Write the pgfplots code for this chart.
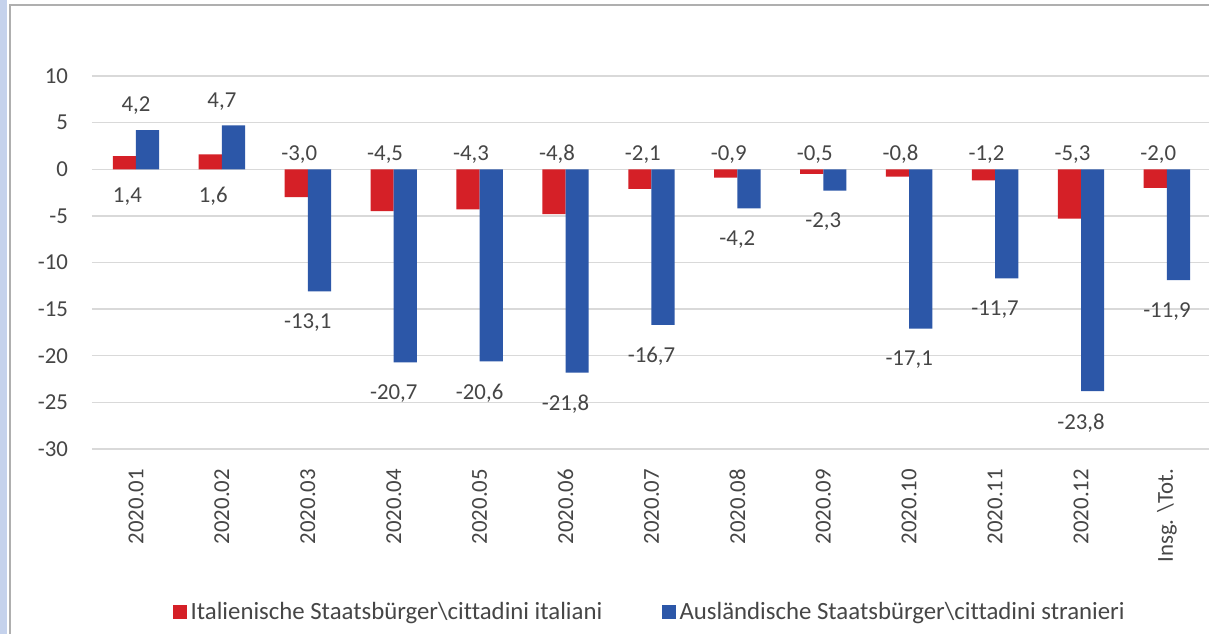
\documentclass[border=0pt]{standalone}
\usepackage{pgfplots}
\pgfplotsset{compat=1.18}
\usepackage{pgfplotstable}
\usepackage{fontspec}
\setmainfont{Carlito}[Ligatures=NoCommon]
\definecolor{myred}{RGB}{213,32,39}
\definecolor{myblue}{RGB}{44,87,168}
\definecolor{txt}{RGB}{70,70,70}
\definecolor{gridc}{RGB}{217,217,217}
\definecolor{frameblue}{RGB}{197,210,236}
\definecolor{framegrey}{RGB}{175,175,175}

\pgfplotstableread{
x red blue rlab
0 1.4 4.2 -2.9
1 1.6 4.7 -2.9
2 -3.0 -13.1 1.6
3 -4.5 -20.7 1.6
4 -4.3 -20.6 1.6
5 -4.8 -21.8 1.6
6 -2.1 -16.7 1.6
7 -0.9 -4.2 1.6
8 -0.5 -2.3 1.6
9 -0.8 -17.1 1.6
10 -1.2 -11.7 1.6
11 -5.3 -23.8 1.6
12 -2.0 -11.9 1.6
}\data

\begin{document}
\begin{tikzpicture}
\clip (0,0) rectangle (604.5pt,317pt);
\fill[white] (0,0) rectangle (604.5pt,317pt);
\fill[frameblue] (0,0) rectangle (3.6pt,317pt);
\draw[framegrey, line width=1pt] (4.8pt,0) -- (4.8pt,314.3pt) -- (604.5pt,314.3pt);
\begin{axis}[
  at={(46pt,92.5pt)}, anchor=south west,
  scale only axis, width=558.5pt, height=186.5pt,
  xmin=-0.512, xmax=12.49, ymin=-30, ymax=10,
  axis line style={draw=none}, major tick length=0pt,
  ymajorgrids, grid style={gridc, line width=0.7pt},
  ytick={-30,-25,...,10},
  xtick={0,...,12},
  xticklabels={2020.01,2020.02,2020.03,2020.04,2020.05,2020.06,2020.07,2020.08,2020.09,2020.10,2020.11,2020.12,Insg. \textbackslash Tot.},
  tick label style={font=\fontsize{11.4}{13}\selectfont, text=txt},
  xticklabel style={yshift=-6.5pt, rotate=90, anchor=east},
  yticklabel style={xshift=-8.5pt},
  /pgf/number format/assume math mode=true,
  legend style={at={(axis description cs:0.5005,-0.437)}, anchor=center, draw=none, fill=none,
    legend columns=2, font=\fontsize{12.4}{14}\selectfont, text=txt,
    /tikz/every even column/.append style={column sep=28pt},
    /tikz/every odd column/.append style={column sep=0pt}},
  legend cell align=left,
]
\addplot[ybar, bar width=0.27, bar shift=-0.135, fill=myred, draw=none,
  legend image code/.code={\fill[myred] (0pt,-3.3pt) rectangle (6.6pt,3.3pt);}]
  table[x=x, y=red]{\data};
\addlegendentry{Italienische Staatsbürger\textbackslash cittadini italiani}
\addplot[ybar, bar width=0.27, bar shift=0.135, fill=myblue, draw=none,
  legend image code/.code={\fill[myblue] (0pt,-3.3pt) rectangle (6.6pt,3.3pt);},
  nodes near coords={\pgfmathprintnumber[fixed,fixed zerofill,precision=1,use comma,assume math mode=true]{\pgfplotspointmeta}},
  every node near coord/.append style={font=\fontsize{11.4}{13}\selectfont, text=txt, inner ysep=9.25pt, yshift=-1.75pt}]
  table[x=x, y=blue]{\data};
\addlegendentry{Ausländische Staatsbürger\textbackslash cittadini stranieri}
\addplot[draw=none, forget plot, point meta=explicit,
  nodes near coords={\pgfmathprintnumber[fixed,fixed zerofill,precision=1,use comma,assume math mode=true]{\pgfplotspointmeta}},
  nodes near coords align=center,
  every node near coord/.append style={font=\fontsize{11.4}{13}\selectfont, text=txt, anchor=center}]
  table[x expr=\thisrow{x}-0.1, y=rlab, meta=red]{\data};
\end{axis}
\end{tikzpicture}
\end{document}
